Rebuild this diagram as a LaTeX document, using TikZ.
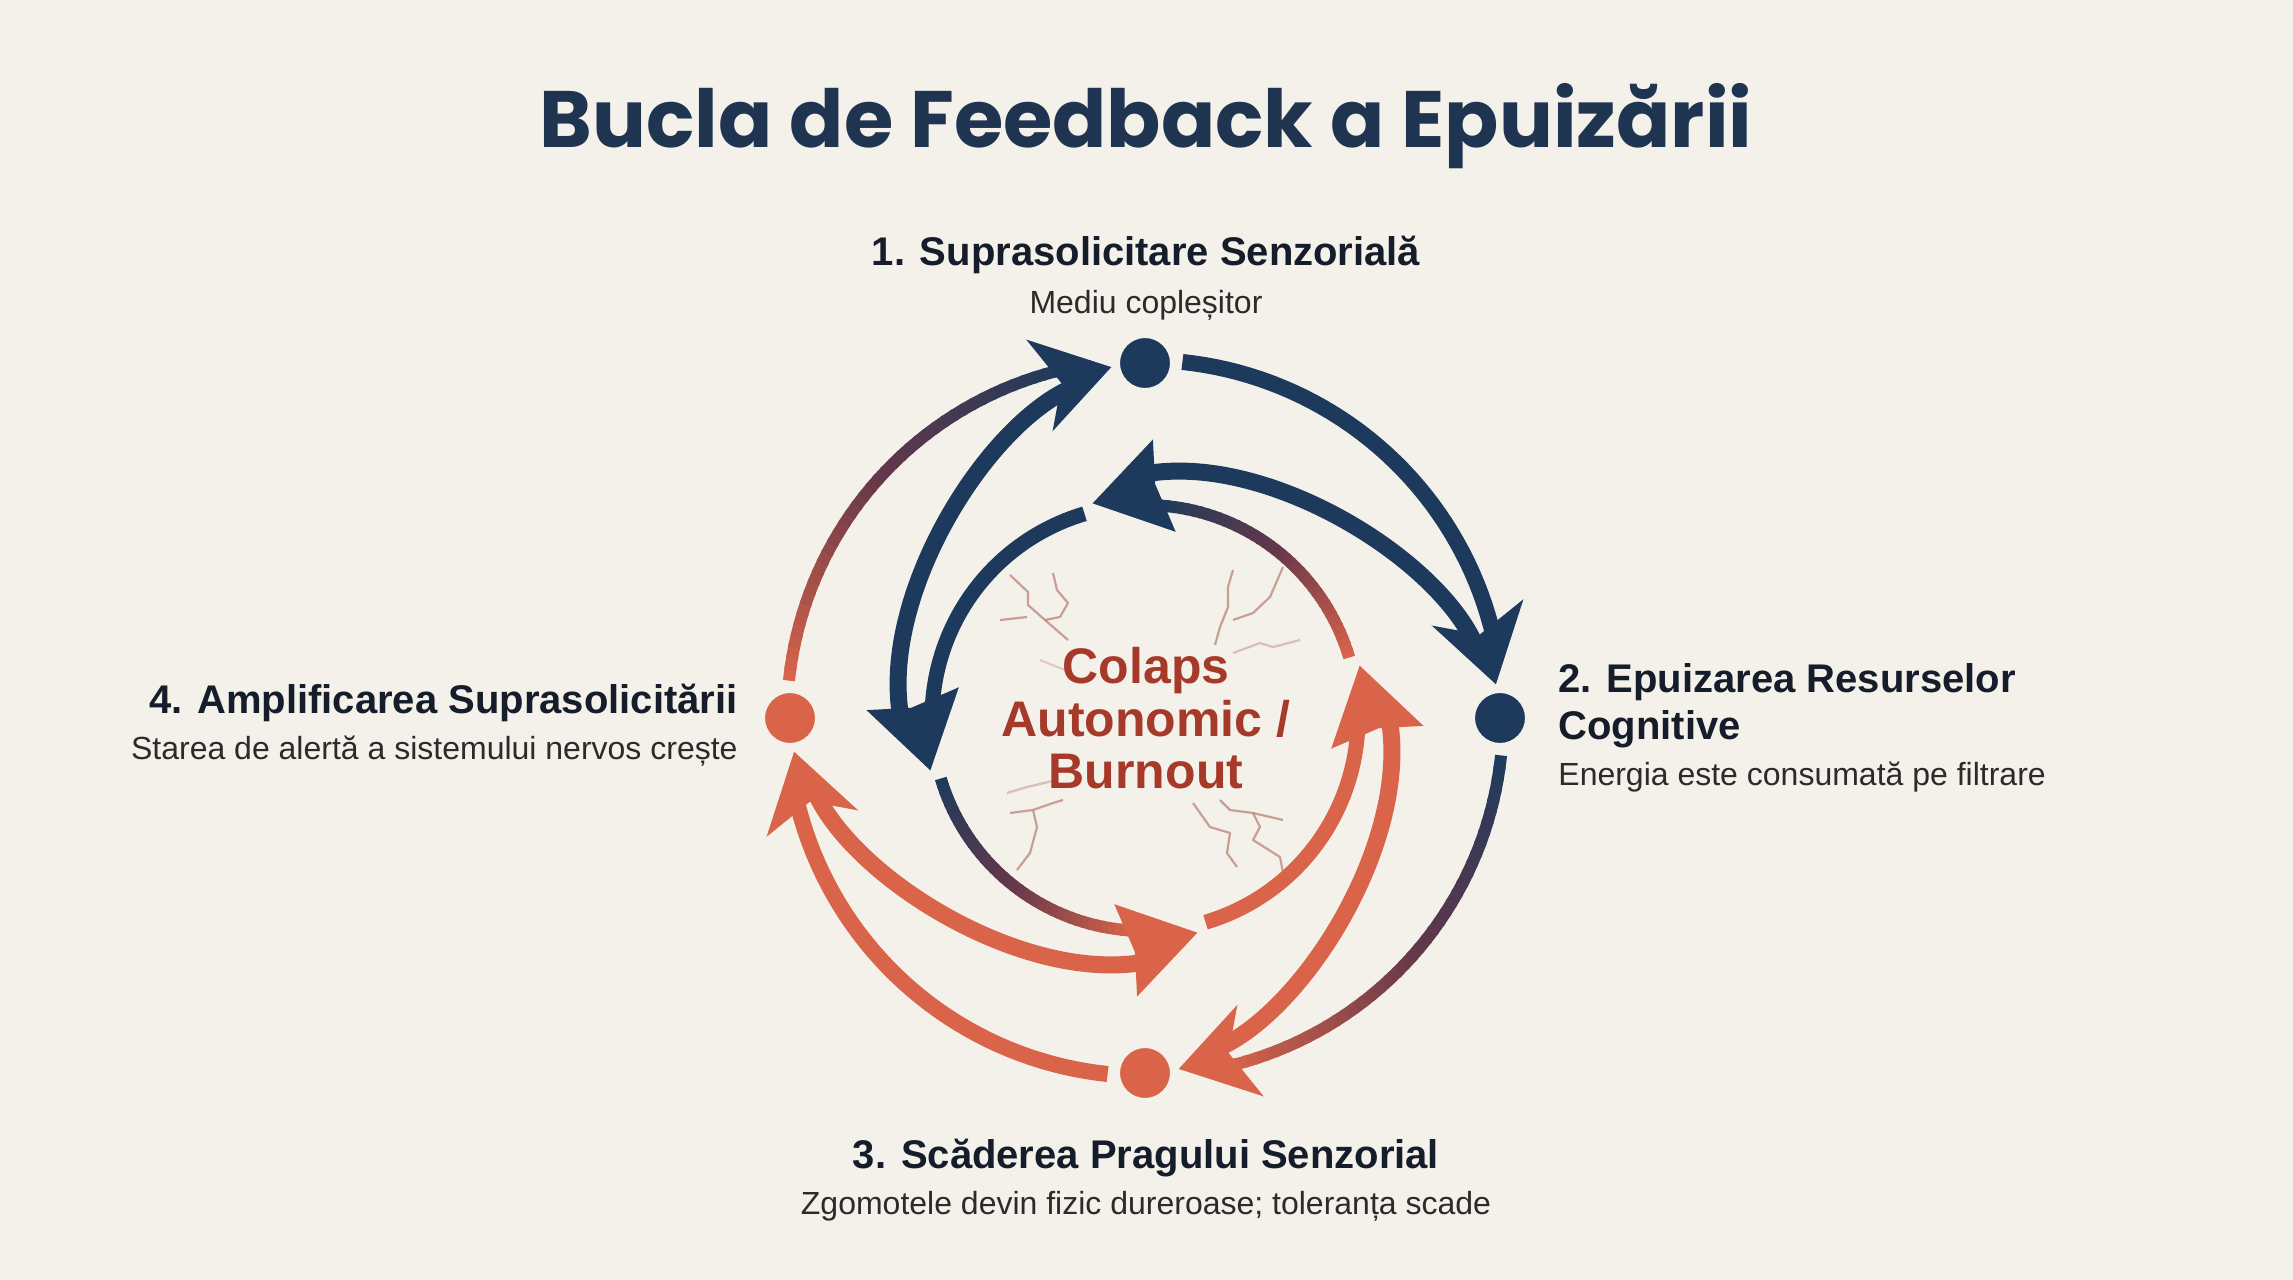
\documentclass[tikz,border=0pt]{standalone}
\usepackage{fontspec}
\setmainfont{Liberation Sans}
\newfontfamily\titlefont{Poppins}
\definecolor{bg}{HTML}{F4F1EA}
\definecolor{navy}{HTML}{1D3A5C}
\definecolor{coral}{HTML}{D9644A}
\definecolor{plum}{HTML}{66384A}
\definecolor{titlec}{HTML}{1F3450}
\definecolor{headc}{HTML}{151C2A}
\definecolor{subc}{HTML}{2B2B2B}
\definecolor{centerc}{HTML}{A63A2A}
\definecolor{crackc}{HTML}{B9847A}
\newcommand{\gradarc}[6]{% radius, start angle, end angle, width, start colour, end colour
  \foreach \i in {0,...,39}{%
    \pgfmathsetmacro{\ta}{#2+(#3-#2)*\i/40}%
    \pgfmathsetmacro{\tb}{#2+(#3-#2)*min(\i+1.3,40)/40}%
    \ifnum\i<20
      \pgfmathsetmacro{\q}{(\i+0.5)*5}%
      \colorlet{gc}{plum!\q!#5}%
    \else
      \pgfmathsetmacro{\q}{(\i-19.5)*5}%
      \colorlet{gc}{#6!\q!plum}%
    \fi
    \draw[line width=#4, gc] plot[domain=\ta:\tb, samples=4] (\x:#1);
  }}
\tikzset{
  ttl/.style={font=\titlefont\bfseries\fontsize{40}{48}\selectfont, text=titlec, inner sep=0pt},
  hd/.style={font=\bfseries\fontsize{20}{24}\selectfont, text=headc, inner sep=0pt},
  sb/.style={font=\fontsize{16}{19}\selectfont, text=subc, inner sep=0pt},
  ctr/.style={font=\bfseries\fontsize{25}{30}\selectfont, text=centerc, inner sep=0pt},
  outerline/.style={line width=8pt},
  midline/.style={line width=8.5pt},
  innerline/.style={line width=7.5pt},
  crack/.style={crackc, line width=1.1pt, line join=round, opacity=0.75},
  dot/.style={circle, minimum size=27pt, inner sep=0pt, draw=bg, line width=2pt},
}
\newcommand{\heads}[2]{% outer head colour, inner head colour (quadrant frame)
  \fill[#1] (95:352) -- (107.5:398) -- (104:345) -- (108:300) -- cycle;
  \draw[bg, line width=1.5pt, line join=round] (107.5:399) -- (95:353) -- (108:299);
  \fill[#2] (194.5:220) -- (178.4:280) -- (177.5:234) -- (170.5:188) -- cycle;
  \draw[bg, line width=1.5pt, line join=round] (178.4:281) -- (194.5:221) -- (170.5:187);
}
\newcommand{\midpath}{(-78,328) .. controls (-163,286) and (-262,125) .. (-245,6)}
\begin{document}
\begin{tikzpicture}[x=0.5pt, y=-0.5pt]
\useasboundingbox (0,0) rectangle (2293,1280);
\fill[bg] (0,0) rectangle (2293,1280);

% title
\node[ttl, anchor=base] (title) at (1146,147) {Bucla de Feedback a Epuizării};

% cracks
\draw[crack] (1010,575) -- (1028,592) -- (1028,605) -- (1045,620) -- (1068,640);
\draw[crack] (1053,573) -- (1057,590) -- (1068,603) -- (1060,617) -- (1045,620);
\draw[crack] (1000,620) -- (1027,617);
\draw[crack, opacity=0.35] (1040,660) -- (1065,670);
\draw[crack] (1233,570) -- (1228,587) -- (1228,607) -- (1220,627) -- (1215,645);
\draw[crack] (1283,567) -- (1270,597) -- (1253,613) -- (1233,620);
\draw[crack, opacity=0.45] (1233,653) -- (1260,643) -- (1273,647) -- (1300,640);
\draw[crack, opacity=0.45] (1007,793) -- (1027,787) -- (1057,780);
\draw[crack] (1010,813) -- (1033,810) -- (1037,827) -- (1030,853) -- (1017,870);
\draw[crack] (1033,810) -- (1053,803) -- (1063,800);
\draw[crack] (1193,803) -- (1210,827) -- (1230,833) -- (1227,853) -- (1237,867);
\draw[crack] (1220,800) -- (1230,810) -- (1253,813) -- (1260,827) -- (1253,840) -- (1280,857) -- (1283,873);
\draw[crack] (1253,813) -- (1283,820);

% arrows
\begin{scope}[shift={(1145,718)}, yscale=-1]
  % top-left quadrant
  \gradarc{358}{174}{103}{6pt}{coral}{navy}
  \draw[midline, navy] \midpath;
  \draw[innerline, navy] plot[domain=106.5:177, samples=40] (\x:213);
  % top-right quadrant
  \begin{scope}[rotate=90]
    \draw[outerline, navy] plot[domain=174:103, samples=40] (\x:358);
    \draw[midline, navy] \midpath;
    \gradarc{213}{106.5}{177}{6pt}{coral}{navy}
  \end{scope}
  % bottom-right quadrant
  \begin{scope}[rotate=180]
    \gradarc{358}{174}{103}{6pt}{navy}{coral}
    \draw[midline, coral] \midpath;
    \draw[innerline, coral] plot[domain=106.5:177, samples=40] (\x:213);
  \end{scope}
  % bottom-left quadrant
  \begin{scope}[rotate=-90]
    \draw[outerline, coral] plot[domain=174:103, samples=40] (\x:358);
    \draw[midline, coral] \midpath;
    \gradarc{213}{106.5}{177}{6pt}{navy}{coral}
  \end{scope}
  % arrow heads
  \heads{navy}{navy}
  \begin{scope}[rotate=90]\heads{navy}{navy}\end{scope}
  \begin{scope}[rotate=180]\heads{coral}{coral}\end{scope}
  \begin{scope}[rotate=-90]\heads{coral}{coral}\end{scope}
  % stage dots
  \node[dot, fill=navy] (n1) at (90:355) {};
  \node[dot, fill=navy] (n2) at (0:355) {};
  \node[dot, fill=coral] (n3) at (270:355) {};
  \node[dot, fill=coral] (n4) at (180:355) {};
\end{scope}

% centre text
\node[ctr, anchor=base] (c1) at (1146,683) {Colaps};
\node[ctr, anchor=base] (c2) at (1146,736) {Autonomic /};
\node[ctr, anchor=base] (c3) at (1146,788) {Burnout};

% labels
\node[hd, anchor=base] (l1) at (1146,265) {1. Suprasolicitare Senzorială};
\node[sb, anchor=base] (s1) at (1146,313) {Mediu copleșitor};
\node[hd, anchor=base west] (l2a) at (1558,692) {2. Epuizarea Resurselor};
\node[hd, anchor=base west] (l2b) at (1558,739) {Cognitive};
\node[sb, anchor=base west] (s2) at (1558,785) {Energia este consumată pe filtrare};
\node[hd, anchor=base] (l3) at (1146,1168) {3. Scăderea Pragului Senzorial};
\node[sb, anchor=base] (s3) at (1146,1214) {Zgomotele devin fizic dureroase; toleranța scade};
\node[hd, anchor=base east] (l4) at (738,713) {4. Amplificarea Suprasolicitării};
\node[sb, anchor=base east] (s4) at (738,759) {Starea de alertă a sistemului nervos crește};
\end{tikzpicture}
\end{document}
